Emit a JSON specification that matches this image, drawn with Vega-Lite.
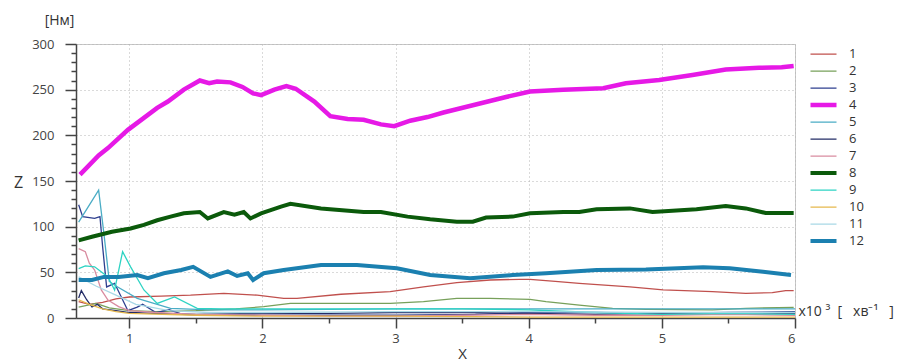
{
  "$schema": "https://vega.github.io/schema/vega-lite/v6.json",
  "width": 719,
  "height": 274,
  "autosize": {"type": "none"},
  "padding": {"left": 76, "top": 44, "right": 102, "bottom": 46},
  "background": "white",
  "config": {
    "font": "Open Sans",
    "view": {"stroke": "#c8c8c8", "strokeWidth": 1},
    "axis": {
      "labelFont": "Open Sans",
      "titleFont": "Open Sans",
      "labelColor": "#444",
      "titleColor": "#333",
      "titleFontWeight": "normal",
      "tickColor": "#444",
      "domainColor": "#444",
      "labelFontSize": 13
    }
  },
  "datasets": {
    "curves": [
      {"s": "1", "x": 0.62, "y": 18}, {"s": "1", "x": 0.7, "y": 15}, {"s": "1", "x": 0.8, "y": 17}, {"s": "1", "x": 0.9, "y": 21}, {"s": "1", "x": 1.0, "y": 23}, {"s": "1", "x": 1.24, "y": 24}, {"s": "1", "x": 1.46, "y": 25}, {"s": "1", "x": 1.71, "y": 27}, {"s": "1", "x": 1.96, "y": 25}, {"s": "1", "x": 2.16, "y": 21.5}, {"s": "1", "x": 2.26, "y": 21.5}, {"s": "1", "x": 2.59, "y": 26}, {"s": "1", "x": 2.96, "y": 28.8}, {"s": "1", "x": 3.21, "y": 34}, {"s": "1", "x": 3.46, "y": 38.7}, {"s": "1", "x": 3.71, "y": 41.6}, {"s": "1", "x": 3.93, "y": 42.4}, {"s": "1", "x": 4.01, "y": 42.4}, {"s": "1", "x": 4.2, "y": 40}, {"s": "1", "x": 4.38, "y": 38}, {"s": "1", "x": 4.76, "y": 34}, {"s": "1", "x": 5.01, "y": 30.7}, {"s": "1", "x": 5.38, "y": 28.8}, {"s": "1", "x": 5.63, "y": 27}, {"s": "1", "x": 5.83, "y": 27.7}, {"s": "1", "x": 5.93, "y": 30}, {"s": "1", "x": 5.99, "y": 30},

      {"s": "2", "x": 0.62, "y": 12}, {"s": "2", "x": 0.75, "y": 16}, {"s": "2", "x": 0.85, "y": 11}, {"s": "2", "x": 1.0, "y": 8}, {"s": "2", "x": 1.2, "y": 7}, {"s": "2", "x": 1.5, "y": 8}, {"s": "2", "x": 1.8, "y": 10}, {"s": "2", "x": 2.01, "y": 12.4}, {"s": "2", "x": 2.21, "y": 16}, {"s": "2", "x": 2.71, "y": 16}, {"s": "2", "x": 2.96, "y": 16}, {"s": "2", "x": 3.21, "y": 18}, {"s": "2", "x": 3.46, "y": 21.5}, {"s": "2", "x": 3.71, "y": 21.5}, {"s": "2", "x": 4.01, "y": 20.4}, {"s": "2", "x": 4.13, "y": 18}, {"s": "2", "x": 4.38, "y": 14}, {"s": "2", "x": 4.63, "y": 10.6}, {"s": "2", "x": 4.88, "y": 9.5}, {"s": "2", "x": 5.38, "y": 8.8}, {"s": "2", "x": 5.63, "y": 10.6}, {"s": "2", "x": 5.99, "y": 11.7},

      {"s": "3", "x": 0.62, "y": 124}, {"s": "3", "x": 0.65, "y": 111}, {"s": "3", "x": 0.74, "y": 109}, {"s": "3", "x": 0.78, "y": 111}, {"s": "3", "x": 0.8, "y": 78}, {"s": "3", "x": 0.83, "y": 34}, {"s": "3", "x": 0.89, "y": 38}, {"s": "3", "x": 0.94, "y": 23}, {"s": "3", "x": 0.99, "y": 8}, {"s": "3", "x": 1.06, "y": 12}, {"s": "3", "x": 1.1, "y": 15}, {"s": "3", "x": 1.2, "y": 6}, {"s": "3", "x": 1.3, "y": 9}, {"s": "3", "x": 1.4, "y": 4}, {"s": "3", "x": 1.6, "y": 3}, {"s": "3", "x": 2.0, "y": 3}, {"s": "3", "x": 3.0, "y": 3}, {"s": "3", "x": 3.6, "y": 4}, {"s": "3", "x": 3.8, "y": 5}, {"s": "3", "x": 4.0, "y": 6}, {"s": "3", "x": 4.5, "y": 6}, {"s": "3", "x": 5.0, "y": 5}, {"s": "3", "x": 5.5, "y": 6}, {"s": "3", "x": 6.0, "y": 7},

      {"s": "4", "x": 0.63, "y": 157}, {"s": "4", "x": 0.77, "y": 178}, {"s": "4", "x": 0.84, "y": 186}, {"s": "4", "x": 0.99, "y": 206}, {"s": "4", "x": 1.21, "y": 230}, {"s": "4", "x": 1.29, "y": 237}, {"s": "4", "x": 1.41, "y": 250}, {"s": "4", "x": 1.53, "y": 260}, {"s": "4", "x": 1.6, "y": 257}, {"s": "4", "x": 1.66, "y": 259}, {"s": "4", "x": 1.76, "y": 258}, {"s": "4", "x": 1.85, "y": 253}, {"s": "4", "x": 1.93, "y": 246}, {"s": "4", "x": 1.99, "y": 244}, {"s": "4", "x": 2.09, "y": 250}, {"s": "4", "x": 2.18, "y": 254}, {"s": "4", "x": 2.25, "y": 251}, {"s": "4", "x": 2.39, "y": 237}, {"s": "4", "x": 2.51, "y": 221}, {"s": "4", "x": 2.64, "y": 218}, {"s": "4", "x": 2.76, "y": 217}, {"s": "4", "x": 2.89, "y": 212}, {"s": "4", "x": 2.99, "y": 210}, {"s": "4", "x": 3.11, "y": 216}, {"s": "4", "x": 3.24, "y": 220}, {"s": "4", "x": 3.36, "y": 225}, {"s": "4", "x": 3.58, "y": 233}, {"s": "4", "x": 3.83, "y": 242}, {"s": "4", "x": 4.01, "y": 248}, {"s": "4", "x": 4.26, "y": 250}, {"s": "4", "x": 4.56, "y": 251.5}, {"s": "4", "x": 4.73, "y": 257}, {"s": "4", "x": 4.98, "y": 260.6}, {"s": "4", "x": 5.23, "y": 266}, {"s": "4", "x": 5.48, "y": 272}, {"s": "4", "x": 5.73, "y": 274}, {"s": "4", "x": 5.9, "y": 274.5}, {"s": "4", "x": 5.99, "y": 276},

      {"s": "5", "x": 0.62, "y": 105}, {"s": "5", "x": 0.77, "y": 140}, {"s": "5", "x": 0.81, "y": 92}, {"s": "5", "x": 0.85, "y": 40}, {"s": "5", "x": 0.9, "y": 35}, {"s": "5", "x": 1.06, "y": 21.5}, {"s": "5", "x": 1.31, "y": 10.6}, {"s": "5", "x": 1.6, "y": 9}, {"s": "5", "x": 2.0, "y": 9}, {"s": "5", "x": 3.0, "y": 10}, {"s": "5", "x": 4.0, "y": 10}, {"s": "5", "x": 5.0, "y": 10}, {"s": "5", "x": 6.0, "y": 10},

      {"s": "6", "x": 0.62, "y": 22}, {"s": "6", "x": 0.64, "y": 30}, {"s": "6", "x": 0.68, "y": 20}, {"s": "6", "x": 0.72, "y": 12}, {"s": "6", "x": 0.76, "y": 15}, {"s": "6", "x": 0.8, "y": 10}, {"s": "6", "x": 0.9, "y": 8}, {"s": "6", "x": 1.0, "y": 6}, {"s": "6", "x": 1.2, "y": 5}, {"s": "6", "x": 1.5, "y": 4}, {"s": "6", "x": 2.0, "y": 5}, {"s": "6", "x": 2.5, "y": 5}, {"s": "6", "x": 3.0, "y": 6}, {"s": "6", "x": 3.5, "y": 6}, {"s": "6", "x": 4.0, "y": 5}, {"s": "6", "x": 4.5, "y": 4}, {"s": "6", "x": 5.0, "y": 5}, {"s": "6", "x": 5.5, "y": 4}, {"s": "6", "x": 6.0, "y": 5},

      {"s": "7", "x": 0.62, "y": 76}, {"s": "7", "x": 0.67, "y": 72.6}, {"s": "7", "x": 0.7, "y": 60}, {"s": "7", "x": 0.74, "y": 52.5}, {"s": "7", "x": 0.79, "y": 30.7}, {"s": "7", "x": 0.84, "y": 19.7}, {"s": "7", "x": 0.92, "y": 12.4}, {"s": "7", "x": 1.0, "y": 8}, {"s": "7", "x": 1.2, "y": 6}, {"s": "7", "x": 1.5, "y": 4}, {"s": "7", "x": 2.0, "y": 3}, {"s": "7", "x": 2.5, "y": 2}, {"s": "7", "x": 3.0, "y": 2}, {"s": "7", "x": 3.5, "y": 3}, {"s": "7", "x": 4.0, "y": 4}, {"s": "7", "x": 4.5, "y": 3}, {"s": "7", "x": 5.0, "y": 3}, {"s": "7", "x": 5.5, "y": 4}, {"s": "7", "x": 6.0, "y": 3},

      {"s": "8", "x": 0.62, "y": 85}, {"s": "8", "x": 0.72, "y": 89}, {"s": "8", "x": 0.87, "y": 94.5}, {"s": "8", "x": 1.01, "y": 98}, {"s": "8", "x": 1.11, "y": 102}, {"s": "8", "x": 1.21, "y": 107}, {"s": "8", "x": 1.31, "y": 111}, {"s": "8", "x": 1.41, "y": 114.6}, {"s": "8", "x": 1.53, "y": 116}, {"s": "8", "x": 1.59, "y": 109}, {"s": "8", "x": 1.71, "y": 116}, {"s": "8", "x": 1.79, "y": 113}, {"s": "8", "x": 1.86, "y": 116}, {"s": "8", "x": 1.91, "y": 109}, {"s": "8", "x": 1.99, "y": 114.6}, {"s": "8", "x": 2.14, "y": 122}, {"s": "8", "x": 2.21, "y": 125}, {"s": "8", "x": 2.44, "y": 120}, {"s": "8", "x": 2.76, "y": 116}, {"s": "8", "x": 2.89, "y": 116}, {"s": "8", "x": 3.09, "y": 111}, {"s": "8", "x": 3.26, "y": 108}, {"s": "8", "x": 3.46, "y": 105.5}, {"s": "8", "x": 3.58, "y": 105.5}, {"s": "8", "x": 3.68, "y": 110}, {"s": "8", "x": 3.88, "y": 111}, {"s": "8", "x": 4.01, "y": 114.6}, {"s": "8", "x": 4.26, "y": 116}, {"s": "8", "x": 4.38, "y": 116}, {"s": "8", "x": 4.51, "y": 119}, {"s": "8", "x": 4.76, "y": 120}, {"s": "8", "x": 4.93, "y": 116}, {"s": "8", "x": 5.26, "y": 119}, {"s": "8", "x": 5.48, "y": 122.6}, {"s": "8", "x": 5.63, "y": 120}, {"s": "8", "x": 5.78, "y": 115}, {"s": "8", "x": 5.99, "y": 115},

      {"s": "9", "x": 0.62, "y": 54}, {"s": "9", "x": 0.67, "y": 57}, {"s": "9", "x": 0.74, "y": 56}, {"s": "9", "x": 0.84, "y": 45}, {"s": "9", "x": 0.89, "y": 30.7}, {"s": "9", "x": 0.95, "y": 72.6}, {"s": "9", "x": 1.01, "y": 56}, {"s": "9", "x": 1.11, "y": 30.7}, {"s": "9", "x": 1.21, "y": 16}, {"s": "9", "x": 1.34, "y": 23}, {"s": "9", "x": 1.51, "y": 10.6}, {"s": "9", "x": 1.7, "y": 10}, {"s": "9", "x": 2.0, "y": 10}, {"s": "9", "x": 2.5, "y": 10}, {"s": "9", "x": 3.0, "y": 10}, {"s": "9", "x": 3.5, "y": 10}, {"s": "9", "x": 4.0, "y": 9}, {"s": "9", "x": 4.5, "y": 6}, {"s": "9", "x": 5.0, "y": 4}, {"s": "9", "x": 5.5, "y": 5}, {"s": "9", "x": 6.0, "y": 4},

      {"s": "10", "x": 0.62, "y": 20}, {"s": "10", "x": 0.7, "y": 15}, {"s": "10", "x": 0.8, "y": 10}, {"s": "10", "x": 0.9, "y": 7}, {"s": "10", "x": 1.0, "y": 5}, {"s": "10", "x": 1.5, "y": 3}, {"s": "10", "x": 2.0, "y": 2}, {"s": "10", "x": 3.0, "y": 2}, {"s": "10", "x": 4.0, "y": 1}, {"s": "10", "x": 5.0, "y": 1}, {"s": "10", "x": 6.0, "y": 1},

      {"s": "11", "x": 0.62, "y": 45}, {"s": "11", "x": 0.75, "y": 35}, {"s": "11", "x": 0.9, "y": 25}, {"s": "11", "x": 1.05, "y": 15}, {"s": "11", "x": 1.3, "y": 8}, {"s": "11", "x": 1.6, "y": 6}, {"s": "11", "x": 2.0, "y": 6}, {"s": "11", "x": 3.0, "y": 7}, {"s": "11", "x": 4.0, "y": 7}, {"s": "11", "x": 5.0, "y": 6}, {"s": "11", "x": 6.0, "y": 6},

      {"s": "12", "x": 0.62, "y": 41.6}, {"s": "12", "x": 0.72, "y": 41.6}, {"s": "12", "x": 0.81, "y": 45}, {"s": "12", "x": 0.92, "y": 45}, {"s": "12", "x": 1.06, "y": 47}, {"s": "12", "x": 1.14, "y": 43.5}, {"s": "12", "x": 1.26, "y": 49}, {"s": "12", "x": 1.39, "y": 52.5}, {"s": "12", "x": 1.48, "y": 56}, {"s": "12", "x": 1.61, "y": 45}, {"s": "12", "x": 1.74, "y": 51}, {"s": "12", "x": 1.81, "y": 46}, {"s": "12", "x": 1.89, "y": 49}, {"s": "12", "x": 1.93, "y": 41.6}, {"s": "12", "x": 2.01, "y": 49}, {"s": "12", "x": 2.16, "y": 52.5}, {"s": "12", "x": 2.44, "y": 58}, {"s": "12", "x": 2.71, "y": 58}, {"s": "12", "x": 3.01, "y": 54.4}, {"s": "12", "x": 3.26, "y": 47}, {"s": "12", "x": 3.56, "y": 43.5}, {"s": "12", "x": 3.88, "y": 47}, {"s": "12", "x": 4.13, "y": 49}, {"s": "12", "x": 4.51, "y": 52.5}, {"s": "12", "x": 4.88, "y": 53}, {"s": "12", "x": 5.31, "y": 55.5}, {"s": "12", "x": 5.51, "y": 54.4}, {"s": "12", "x": 5.76, "y": 50.7}, {"s": "12", "x": 5.97, "y": 47}
    ]
  },
  "data": {"name": "curves"},
  "encoding": {
    "color": {
      "field": "s",
      "type": "ordinal",
      "scale": {
        "type": "ordinal",
        "domain": ["1", "2", "3", "4", "5", "6", "7", "8", "9", "10", "11", "12"],
        "range": ["#c0504d", "#77a05a", "#2e3f8f", "#e619e6", "#4aacc5", "#232c66", "#d98ca0", "#0b5a0b", "#2dd3c3", "#e6b84d", "#a8d8e6", "#1b80b0"]
      },
      "legend": {
        "title": null,
        "orient": "none",
        "legendX": 732,
        "legendY": 2,
        "symbolType": "stroke",
        "symbolSize": 676,
        "clipHeight": 16.2,
        "rowPadding": 0,
        "labelFontSize": 13,
        "labelOffset": 10,
        "labelColor": "#333",
        "labelFont": "Open Sans"
      }
    },
    "strokeWidth": {
      "field": "s",
      "type": "ordinal",
      "scale": {
        "type": "ordinal",
        "domain": ["1", "2", "3", "4", "5", "6", "7", "8", "9", "10", "11", "12"],
        "range": [1.3, 1.3, 1.3, 4.5, 1.3, 1.3, 1.3, 4, 1.3, 1.3, 1.3, 4]
      },
      "legend": {
        "title": null,
        "orient": "none",
        "legendX": 732,
        "legendY": 2,
        "symbolType": "stroke",
        "symbolSize": 676,
        "clipHeight": 16.2,
        "rowPadding": 0,
        "labelFontSize": 13,
        "labelOffset": 10,
        "labelColor": "#333",
        "labelFont": "Open Sans"
      }
    }
  },
  "layer": [
    {
      "transform": [{"filter": "indexof(['4','8','12'], datum.s) < 0"}],
      "mark": {"type": "line", "interpolate": "linear"},
      "encoding": {
        "x": {
          "field": "x", "type": "quantitative",
          "scale": {"domain": [0.6, 6], "nice": false, "zero": false},
          "axis": {
            "values": [1, 2, 3, 4, 5, 6],
            "title": "X",
            "titleFontSize": 15,
            "titleX": 386,
            "titleY": 35,
            "titleAlign": "center",
            "titleBaseline": "middle",
            "tickSize": 10,
            "tickWidth": 1.5,
            "labelPadding": 4,
            "domainWidth": 1.5,
            "grid": true,
            "gridDash": [1, 3],
            "gridColor": "#b4b4b4"
          }
        },
        "y": {
          "field": "y", "type": "quantitative",
          "scale": {"domain": [0, 300], "nice": false},
          "axis": {
            "values": [0, 50, 100, 150, 200, 250, 300],
            "title": "Z",
            "titleAngle": 0,
            "titleFontSize": 16,
            "titleX": -58,
            "titleY": 138,
            "titleAlign": "center",
            "titleBaseline": "middle",
            "tickSize": 11,
            "tickWidth": 1.5,
            "labelPadding": 11,
            "domainWidth": 1.5,
            "grid": true,
            "gridDash": [1, 3],
            "gridColor": "#b4b4b4"
          }
        }
      }
    },
    {
      "transform": [{"filter": "indexof(['4','8','12'], datum.s) >= 0"}],
      "mark": {"type": "line", "interpolate": "linear"},
      "encoding": {
        "x": {
          "field": "x", "type": "quantitative",
          "axis": {
            "orient": "bottom",
            "values": [1.5, 2.5, 3.5, 4.5, 5.5],
            "labels": false,
            "domain": false,
            "grid": false,
            "tickSize": 5,
            "tickWidth": 1.5,
            "title": "x10\u00a0³\u00a0\u00a0[\u00a0\u00a0\u00a0хв⁻¹\u00a0\u00a0\u00a0]",
            "titleFontSize": 14,
            "titleX": 722,
            "titleY": -7,
            "titleAlign": "left",
            "titleBaseline": "middle"
          }
        },
        "y": {
          "field": "y", "type": "quantitative",
          "axis": {
            "orient": "left",
            "values": [10, 20, 30, 40, 60, 70, 80, 90, 110, 120, 130, 140, 160, 170, 180, 190, 210, 220, 230, 240, 260, 270, 280, 290],
            "labels": false,
            "domain": false,
            "grid": false,
            "tickSize": 5,
            "tickWidth": 1.5,
            "title": "[Нм]",
            "titleAngle": 0,
            "titleFontSize": 14,
            "titleX": -17,
            "titleY": -24,
            "titleAlign": "center",
            "titleBaseline": "middle"
          }
        }
      }
    }
  ],
  "resolve": {"axis": {"x": "independent", "y": "independent"}}
}
